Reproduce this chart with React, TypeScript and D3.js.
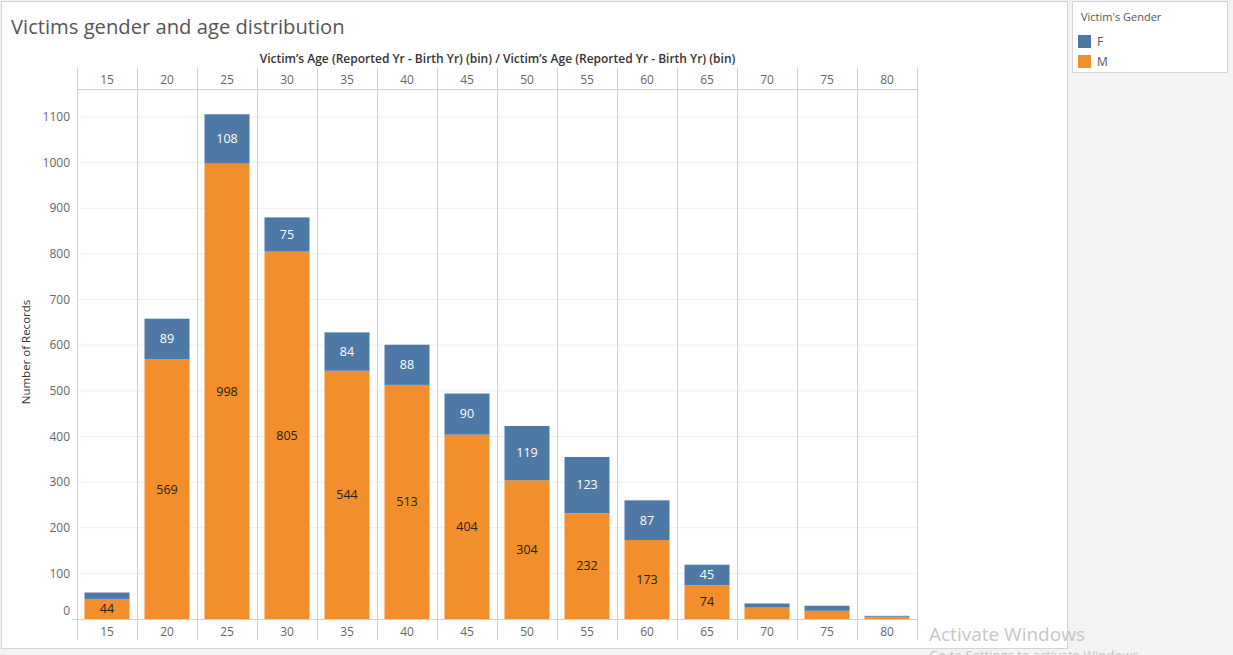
import React from "react";
import * as d3 from "d3";

// age bins (years)
const ages = ["15", "20", "25", "30", "35", "40", "45", "50", "55", "60", "65", "70", "75", "80"];
// number of records per bin, by gender
const maleCounts = [44, 569, 998, 805, 544, 513, 404, 304, 232, 173, 74, 25, 18, 5];
const femaleCounts = [14, 89, 108, 75, 84, 88, 90, 119, 123, 87, 45, 9, 11, 2];
const yTicks = [0, 100, 200, 300, 400, 500, 600, 700, 800, 900, 1000, 1100];

const W = 1233;
const H = 655;
const FONT = "'Open Sans', 'Noto Sans', sans-serif";
const BLUE = "#4e79a7";
const ORANGE = "#f28e2b";

export default function App() {
  const left = 77;
  const right = 917;
  const top = 89;
  const bottom = 619;

  const x = d3.scaleBand<string>().domain(ages).range([left, right]).paddingInner(0.25).paddingOuter(0.125);
  const y = d3.scaleLinear().domain([0, 1100]).range([bottom, 117]);
  const step = x.step();

  const rows = ages.map((a, i) => ({ age: a, m: maleCounts[i], f: femaleCounts[i] }));
  const dividers = d3.range(ages.length + 1).map(i => left + i * step);

  return (
    <svg width={W} height={H} style={{ position: "absolute", left: 0, top: 0, fontFamily: FONT }}>
      <rect x={0} y={0} width={W} height={H} fill="#f3f3f3" />
      {/* worksheet */}
      <rect x={1.5} y={1.5} width={1066} height={647} fill="#fff" stroke="#d4d4d4" />
      <text x={11} y={34} fontSize={20.2} fill="#555">Victims gender and age distribution</text>
      <text x={(left + right) / 2 + 0.5} y={63} fontSize={12} fontWeight={600} fill="#333" textAnchor="middle">
        Victim’s Age (Reported Yr - Birth Yr) (bin)  /  Victim’s Age (Reported Yr - Birth Yr) (bin)
      </text>

      {/* grid */}
      {yTicks.filter(t => t > 0).map(t => (
        <line key={t} x1={left} x2={right} y1={y(t)} y2={y(t)} stroke="#efefef" />
      ))}

      {/* bars */}
      {rows.map(r => {
        const bx = x(r.age) ?? 0;
        const bw = x.bandwidth();
        const cx = bx + bw / 2;
        const mTop = y(r.m);
        const fTop = y(r.m + r.f);
        return (
          <g key={r.age}>
            <rect x={bx} y={mTop} width={bw} height={bottom - mTop} fill={ORANGE} />
            <rect x={bx} y={fTop} width={bw} height={mTop - fTop} fill={BLUE} />
            {r.m >= 30 && (
              <text x={cx} y={(mTop + bottom) / 2} dy="0.35em" textAnchor="middle" fontSize={12.5} fill="#222">{r.m}</text>
            )}
            {r.f >= 30 && (
              <text x={cx} y={(fTop + mTop) / 2} dy="0.35em" textAnchor="middle" fontSize={12.5} fill="#fff">{r.f}</text>
            )}
          </g>
        );
      })}

      {/* column dividers and header lines */}
      {dividers.map((d, i) => (
        <line key={i} x1={d + 0.5} x2={d + 0.5} y1={68} y2={640} stroke="#d0d0d0" />
      ))}
      <line x1={left} x2={right} y1={top + 0.5} y2={top + 0.5} stroke="#d0d0d0" />
      <line x1={72} x2={right} y1={bottom + 0.5} y2={bottom + 0.5} stroke="#d0d0d0" />

      {ages.map(a => {
        const cx = (x(a) ?? 0) + x.bandwidth() / 2;
        return (
          <g key={a}>
            <text x={cx} y={80} dy="0.35em" textAnchor="middle" fontSize={12} fill="#666">{a}</text>
            <text x={cx} y={632} dy="0.35em" textAnchor="middle" fontSize={12} fill="#666">{a}</text>
          </g>
        );
      })}

      {/* y axis */}
      {yTicks.map(t => (
        <text key={t} x={70} y={t === 0 ? y(t) - 8.5 : y(t)} dy="0.35em" textAnchor="end" fontSize={12} fill="#666">{t}</text>
      ))}
      <text transform={`translate(30,${352}) rotate(-90)`} textAnchor="middle" fontSize={11.5} fill="#333">Number of Records</text>

      {/* legend */}
      <rect x={1072.5} y={1.5} width={155} height={71} fill="#fff" stroke="#d4d4d4" />
      <text x={1081} y={17} dy="0.35em" fontSize={11} fill="#555">Victim's Gender</text>
      {[{ k: "F", c: BLUE }, { k: "M", c: ORANGE }].map((it, i) => (
        <g key={it.k}>
          <rect x={1078} y={35 + i * 20} width={13} height={13} fill={it.c} />
          <text x={1097} y={41.5 + i * 20} dy="0.35em" fontSize={12} fill="#555">{it.k}</text>
        </g>
      ))}

      {/* OS watermark visible in the screenshot */}
      <text x={929} y={641} fontSize={19} fill="#c6c6c6">Activate Windows</text>
      <text x={929} y={660} fontSize={13} fill="#c6c6c6">Go to Settings to activate Windows.</text>
    </svg>
  );
}
